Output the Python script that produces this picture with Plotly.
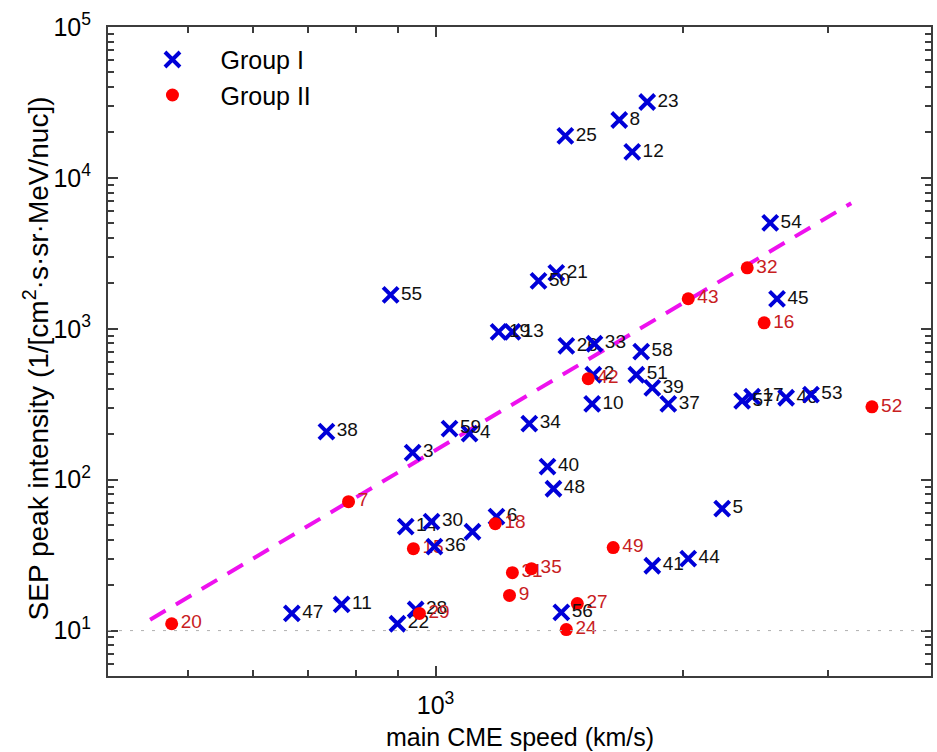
import math
import plotly.graph_objects as go

# Event catalogue: number, group, main CME speed (km/s), SEP peak intensity
event_id = list(range(1, 60))
group = ["I", "I", "I", "I", "I", "I", "II", "I", "II", "I",
         "I", "I", "I", "I", "II", "II", "I", "II", "I", "II",
         "I", "I", "I", "II", "I", "I", "II", "I", "II", "I",
         "II", "II", "I", "I", "II", "I", "I", "I", "I", "I",
         "I", "II", "II", "I", "I", "I", "I", "I", "II", "I",
         "I", "II", "I", "I", "I", "I", "I", "I", "I"]
cme_speed = [1109, 1555, 938, 1100, 2230, 1186, 784, 1672, 1230, 1550,
             769, 1734, 1240, 920, 940, 2508, 2425, 1182, 1193, 478,
             1402, 899, 1808, 1442, 1438, 1442, 1487, 946, 956, 989,
             1240, 2392, 1560, 1300, 1308, 997, 1918, 737, 1834, 1368,
             1834, 1533, 2028, 2028, 2600, 2667, 669, 1391, 1644, 1334,
             1754, 3391, 2859, 2551, 882, 1422, 2358, 1778, 1040]
sep_peak = [45.2, 496, 151, 202, 64.3, 56.9, 71.5, 24200, 17.1, 318,
            14.9, 14860, 955, 48.8, 34.9, 1096, 355, 51.1, 955, 11.1,
            2350, 11.1, 31850, 10.15, 18970, 771, 15.1, 13.8, 13.0, 52.7,
            24.2, 2536, 796, 235, 25.7, 36.0, 318, 208, 406, 122,
            26.9, 467, 1582, 30.0, 1580, 349, 13.0, 87.1, 35.5, 2080,
            496, 304, 366, 5035, 1680, 13.2, 333, 705, 218]
# labels that end up hidden under later symbols are left blank
label_text = [str(n) for n in event_id]
label_text[0] = ""

# Group II power-law fit, drawn between its end points
fit_speed = [450, 3200]
fit_peak = [11.8, 6800]

# detection threshold
threshold = 10

x_range = [400, 4000]
y_range = [5, 1e5]
x_major = [1000]
x_major_text = ["10<sup>3</sup>"]
x_minor = [500, 600, 700, 800, 900, 2000, 3000]
y_major = [10, 100, 1000, 10000, 100000]
y_major_text = ["10<sup>1</sup>", "10<sup>2</sup>", "10<sup>3</sup>",
                "10<sup>4</sup>", "10<sup>5</sup>"]
y_minor = [m * 10 ** e for e in range(0, 5) for m in range(2, 10)]

BLUE = "#0000d8"
RED = "#ff0000"
RED_TXT = "#c8201e"
MAGENTA = "#ee11ee"
AXIS = "#3c3c3c"
FONT = "Liberation Sans, Arial, Helvetica, sans-serif"

style = {
    "I": dict(name="Group I",
              marker=dict(symbol="x-thin", size=15, color=BLUE,
                          line=dict(width=4, color=BLUE)),
              textcolor="#111111"),
    "II": dict(name="Group II",
               marker=dict(symbol="circle", size=13, color=RED,
                           line=dict(width=0)),
               textcolor=RED_TXT),
}

fig = go.Figure()

fig.add_trace(go.Scatter(
    x=fit_speed, y=fit_peak, mode="lines",
    line=dict(color=MAGENTA, width=4, dash="18px,12px"),
    showlegend=False, hoverinfo="skip"))

seen = set()
for n, g, xs, ys, lab in zip(event_id, group, cme_speed, sep_peak, label_text):
    s = style[g]
    fig.add_trace(go.Scatter(
        x=[xs], y=[ys], mode="markers+text",
        text=[lab], textposition="middle right",
        textfont=dict(family=FONT, size=19, color=s["textcolor"]),
        marker=s["marker"], name=s["name"], legendgroup=g,
        showlegend=g not in seen, cliponaxis=False))
    seen.add(g)

fig.add_hline(y=threshold, line=dict(color="#b0b0b0", width=1, dash="3px,8px"))

axis_common = dict(
    type="log", showgrid=False, zeroline=False,
    showline=True, linecolor=AXIS, linewidth=2, mirror="ticks",
    ticks="inside", ticklen=10, tickwidth=1.5, tickcolor=AXIS,
    tickfont=dict(family=FONT, size=25, color="#000000"),
)

fig.update_xaxes(
    **axis_common,
    range=[math.log10(v) for v in x_range],
    tickmode="array", tickvals=x_major, ticktext=x_major_text,
    ticklabelstandoff=6,
    minor=dict(tickmode="array", tickvals=x_minor, ticks="inside",
               ticklen=6, tickwidth=1.5, tickcolor=AXIS, showgrid=False),
)
fig.update_yaxes(
    **axis_common,
    range=[math.log10(v) for v in y_range],
    tickmode="array", tickvals=y_major, ticktext=y_major_text,
    ticklabelstandoff=10,
    minor=dict(tickmode="array", tickvals=y_minor, ticks="inside",
               ticklen=6, tickwidth=1.5, tickcolor=AXIS, showgrid=False),
)

# axis titles
fig.add_annotation(
    text="main CME speed (km/s)", xref="paper", yref="paper",
    x=0.5, y=-0.094, xanchor="center", yanchor="middle", showarrow=False,
    font=dict(family=FONT, size=25, color="#000000"))
fig.add_annotation(
    text="SEP peak intensity (1/[cm<sup>2</sup>·s·sr·MeV/nuc])",
    xref="paper", yref="paper", x=-0.087, y=0.49,
    xanchor="center", yanchor="middle", textangle=-90, showarrow=False,
    font=dict(family=FONT, size=28, color="#000000"))

fig.update_layout(
    width=937, height=752, autosize=False,
    margin=dict(l=108, r=4, t=27, b=76, pad=0),
    paper_bgcolor="white", plot_bgcolor="white",
    font=dict(family=FONT),
    legend=dict(x=0.02, y=0.985, xanchor="left", yanchor="top",
                bgcolor="rgba(0,0,0,0)", borderwidth=0,
                itemwidth=86, tracegroupgap=0,
                font=dict(family=FONT, size=25, color="#000000")),
)

fig.write_html("out.html")
